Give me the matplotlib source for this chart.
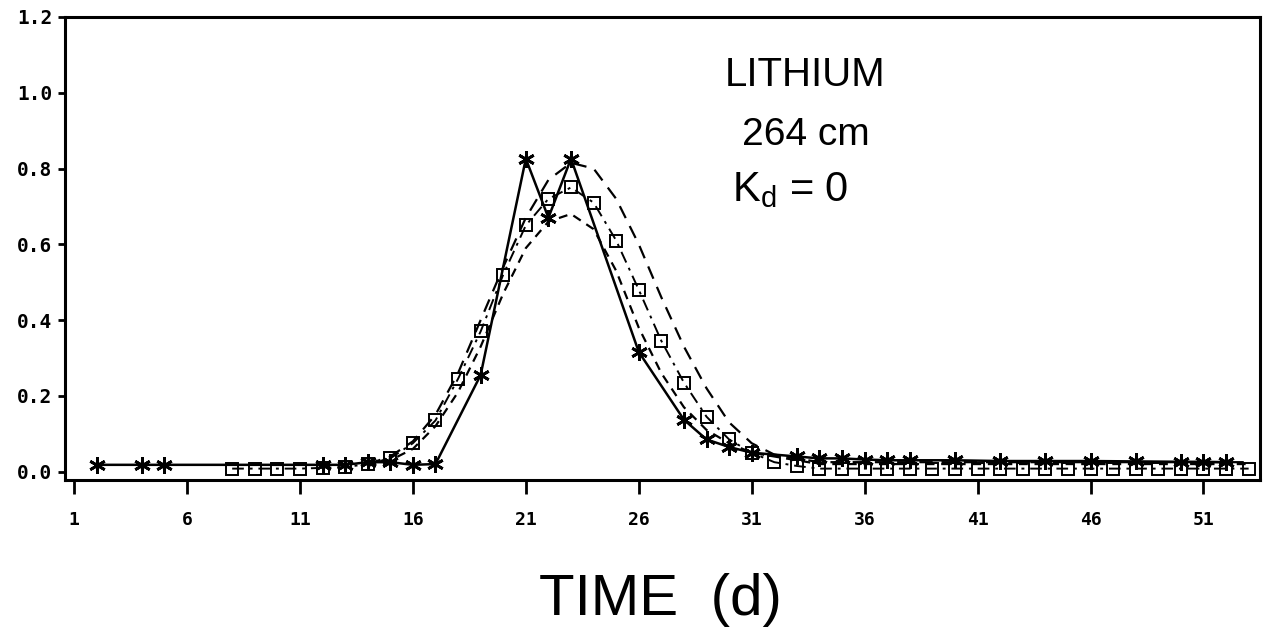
import matplotlib.pyplot as plt

# measured data (stars, solid line)
star_days = [2, 4, 5, 12, 13, 14, 15, 16, 17, 19, 21, 22, 23, 26, 28, 29, 30, 31,
             33, 34, 35, 36, 37, 38, 40, 42, 44, 46, 48, 50, 51, 52]
star_conc = [0.018, 0.018, 0.018, 0.018, 0.018, 0.025, 0.025, 0.018, 0.02, 0.255,
             0.826, 0.67, 0.826, 0.316, 0.137, 0.085, 0.065, 0.05,
             0.04, 0.035, 0.035, 0.032, 0.03, 0.03, 0.03, 0.028, 0.028, 0.028,
             0.027, 0.026, 0.026, 0.025]

# squares, dash-dot line
sq_days = list(range(8, 54))
sq_conc = [0.008, 0.008, 0.008, 0.008, 0.01, 0.012, 0.02, 0.035, 0.075, 0.135,
           0.245, 0.37, 0.52, 0.65, 0.72, 0.75, 0.71, 0.61, 0.48, 0.345,
           0.235, 0.145, 0.085, 0.05, 0.025, 0.015] + [0.008] * 20

# outer dashed curve
a_days = list(range(14, 54))
a_conc = [0.02, 0.04, 0.08, 0.15, 0.26, 0.40, 0.54, 0.67, 0.77, 0.815,
          0.80, 0.72, 0.60, 0.46, 0.33, 0.22, 0.13, 0.075, 0.045, 0.035] + [0.025] * 20

# inner dashed curve
b_days = list(range(14, 54))
b_conc = [0.015, 0.03, 0.06, 0.12, 0.21, 0.33, 0.47, 0.59, 0.66, 0.68,
          0.64, 0.53, 0.38, 0.26, 0.17, 0.11, 0.075, 0.05, 0.04, 0.03] + [0.02] * 20

yticks = [0.0, 0.2, 0.4, 0.6, 0.8, 1.0, 1.2]
xticks = [1, 6, 11, 16, 21, 26, 31, 36, 41, 46, 51]

fig = plt.figure(figsize=(12.65, 6.28), dpi=100)
ax = fig.add_axes([0.0514, 0.2357, 0.9446, 0.7373])

ax.plot(a_days, a_conc, color="black", lw=1.6, ls=(0, (6, 4)))
ax.plot(b_days, b_conc, color="black", lw=1.6, ls=(0, (4, 3)))
ax.plot(sq_days, sq_conc, color="black", lw=1.4, ls=(0, (6, 3, 1.5, 3)),
        marker="s", ms=9, mfc="none", mec="black", mew=1.4)
ax.plot(star_days, star_conc, color="black", lw=1.8,
        marker=(6, 2, 0), ms=12, mec="black", mew=2)

ax.set_xlim(0.6, 53.5)
ax.set_ylim(-0.022, 1.2)
ax.set_xticks(xticks)
ax.set_yticks(yticks)
ax.set_xticklabels([str(t) for t in xticks], fontfamily="DejaVu Sans Mono",
                   fontweight="bold", fontsize=13)
ax.set_yticklabels(["%.1f" % t for t in yticks], fontfamily="DejaVu Sans Mono",
                   fontweight="bold", fontsize=14)
ax.tick_params(axis="x", direction="out", length=10, width=2, pad=12)
ax.tick_params(axis="y", direction="out", length=5, width=2, pad=4)
for s in ax.spines.values():
    s.set_linewidth(2.2)

fig.text(805 / 1265, 1 - 75 / 628, "LITHIUM", ha="center", va="center",
         fontfamily="Liberation Sans", fontsize=29)
fig.text(806 / 1265, 1 - 135 / 628, "264 cm", ha="center", va="center",
         fontfamily="Liberation Sans", fontsize=28)
fig.text(790 / 1265, 1 - 190 / 628, r"K$_\mathregular{d}$ = 0", ha="center",
         va="center", fontfamily="Liberation Sans", fontsize=30)
fig.text(660 / 1265, 1 - 600 / 628, "TIME  (d)", ha="center", va="center",
         fontfamily="Liberation Sans", fontsize=42)

fig.savefig("out.png", dpi=100, facecolor="white")
